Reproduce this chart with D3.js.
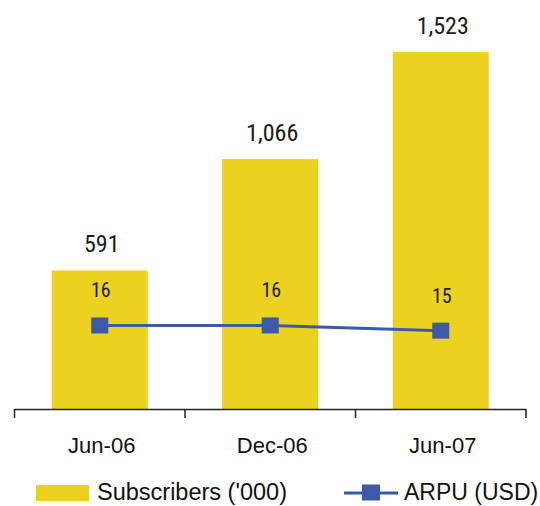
<!DOCTYPE html>
<html>
<head>
<meta charset="utf-8">
<script src="https://cdn.jsdelivr.net/npm/d3@7"></script>
<style>
  body { margin: 0; background: #fff; }
  svg { display: block; }
</style>
</head>
<body>
<div id="chart"></div>
<script>
// data
var periods = ["Jun-06", "Dec-06", "Jun-07"];
var subscribers = [591, 1066, 1523];
var arpu = [16, 16, 15];

var width = 540, height = 506;
var baseY = 409;
var narrow = "'Liberation Sans Narrow', 'Arial Narrow', 'Roboto Condensed', Roboto, sans-serif";
var plain = "'Liberation Sans', Arial, sans-serif";

var svg = d3.select("#chart")
  .append("svg")
  .attr("width", width)
  .attr("height", height);

var x = d3.scaleBand()
  .domain(periods)
  .range([14.5, 526])
  .paddingInner(0.437)
  .paddingOuter(0.2185);

var y = d3.scaleLinear().domain([0, 1600]).range([baseY, 34]);
var y2 = d3.scaleLinear().domain([0, 72]).range([baseY, 33]);

var barColor = "#EBD21E";
var lineColor = "#3C5AA8";
var cx = d => x(d) + x.bandwidth() / 2;

// bars
svg.selectAll(".bar")
  .data(subscribers)
  .enter()
  .append("rect")
  .attr("class", "bar")
  .attr("x", (d, i) => x(periods[i]))
  .attr("y", d => y(d))
  .attr("width", x.bandwidth())
  .attr("height", d => baseY - y(d))
  .attr("fill", barColor);

// bar value labels
svg.selectAll(".barLabel")
  .data(subscribers)
  .enter()
  .append("text")
  .attr("x", (d, i) => cx(periods[i]) + 2)
  .attr("y", d => y(d) - 18)
  .attr("text-anchor", "middle")
  .attr("font-family", narrow)
  .attr("font-size", 24)
  .attr("fill", "#1a1a1a")
  .text(d => d3.format(",")(d));

// x axis line + ticks at band edges
svg.append("line")
  .attr("x1", x.range()[0]).attr("x2", x.range()[1])
  .attr("y1", baseY + 0.5).attr("y2", baseY + 0.5)
  .attr("stroke", "#222").attr("stroke-width", 1.5);

var tickXs = periods.map(p => x(p) - (x.step() - x.bandwidth()) / 2);
tickXs.push(x.range()[1]);
svg.selectAll(".tick")
  .data(tickXs)
  .enter()
  .append("line")
  .attr("x1", d => d).attr("x2", d => d)
  .attr("y1", baseY).attr("y2", baseY + 9)
  .attr("stroke", "#222").attr("stroke-width", 1.5);

svg.selectAll(".catLabel")
  .data(periods)
  .enter()
  .append("text")
  .attr("x", d => cx(d) + 2)
  .attr("y", 453)
  .attr("text-anchor", "middle")
  .attr("font-family", plain)
  .attr("font-size", 22)
  .attr("fill", "#111")
  .text(d => d);

// ARPU line
var line = d3.line()
  .x((d, i) => cx(periods[i]))
  .y(d => y2(d));

svg.append("path")
  .datum(arpu)
  .attr("d", line)
  .attr("fill", "none")
  .attr("stroke", lineColor)
  .attr("stroke-width", 3);

svg.selectAll(".marker")
  .data(arpu)
  .enter()
  .append("rect")
  .attr("x", (d, i) => cx(periods[i]) - 8.5)
  .attr("y", d => y2(d) - 8)
  .attr("width", 17)
  .attr("height", 16)
  .attr("fill", lineColor);

svg.selectAll(".arpuLabel")
  .data(arpu)
  .enter()
  .append("text")
  .attr("x", (d, i) => cx(periods[i]) + 1)
  .attr("y", d => y2(d) - 28)
  .attr("text-anchor", "middle")
  .attr("font-family", narrow)
  .attr("font-size", 20)
  .attr("fill", "#1a1a1a")
  .text(d => d);

// legend
var legend = svg.append("g").attr("transform", "translate(0,493)");
legend.append("rect")
  .attr("x", 36).attr("y", -8)
  .attr("width", 53).attr("height", 16)
  .attr("fill", barColor);
legend.append("text")
  .attr("x", 97).attr("y", 7)
  .attr("font-family", plain)
  .attr("font-size", 23.5)
  .attr("fill", "#111")
  .text("Subscribers ('000)");

legend.append("line")
  .attr("x1", 344).attr("x2", 398)
  .attr("y1", 0).attr("y2", 0)
  .attr("stroke", lineColor).attr("stroke-width", 3);
legend.append("rect")
  .attr("x", 362).attr("y", -8.5)
  .attr("width", 18).attr("height", 16)
  .attr("fill", lineColor);
legend.append("text")
  .attr("x", 404).attr("y", 7)
  .attr("font-family", plain)
  .attr("font-size", 23)
  .attr("fill", "#111")
  .text("ARPU (USD)");
</script>
</body>
</html>
